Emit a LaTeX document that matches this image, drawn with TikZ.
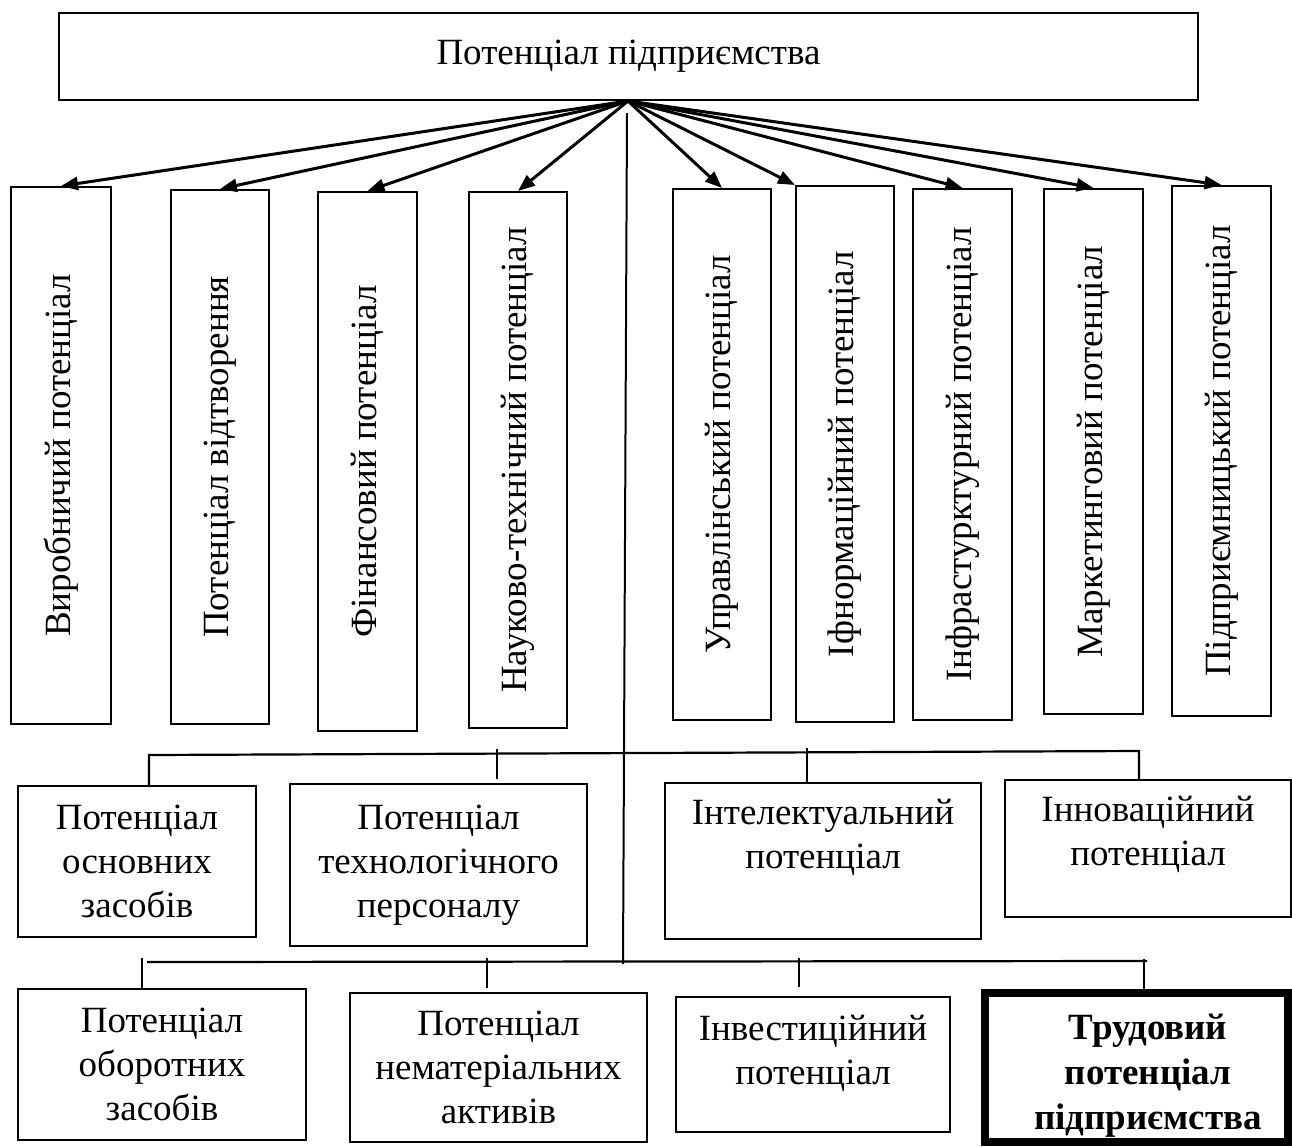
\documentclass[tikz,border=0pt]{standalone}
\usepackage{fontspec}
\setmainfont{Liberation Serif}
\usepackage{graphicx}
\usetikzlibrary{arrows.meta}
\begin{document}
\begin{tikzpicture}[x=1pt,y=-1pt,
  every node/.style={font=\fontsize{37}{44}\selectfont},
  box/.style={draw, line width=2pt, inner sep=0pt, align=center},
  txt/.style={inner sep=0pt, align=center},
  arr/.style={line width=3pt, -{Triangle[length=17pt,width=13pt]}},
  bus/.style={line width=2.2pt},
  tick/.style={line width=1.5pt}]
\useasboundingbox (0,0) rectangle (1292,1146);
\fill[white] (0,0) rectangle (1292,1146);

% top box
\node[box, minimum width=1139pt, minimum height=87pt] (T) at (628.5,56.5) {Потенціал підприємства};

% vertical boxes
\node[box, minimum width=100pt, minimum height=537pt] (v1) at (61,455.5) {\rotatebox{90}{Виробничий потенціал}};
\node[box, minimum width=98pt, minimum height=534pt] (v2) at (220,457) {\rotatebox{90}{Потенціал відтворення}};
\node[box, minimum width=99pt, minimum height=539pt] (v3) at (367.5,461.5) {\rotatebox{90}{Фінансовий потенціал}};
\node[box, minimum width=98pt, minimum height=536pt] (v4) at (518,460) {\rotatebox{90}{Науково-технічний потенціал}};
\node[box, minimum width=98pt, minimum height=531pt] (v5) at (722,454.5) {\rotatebox{90}{Управлінський потенціал}};
\node[box, minimum width=98pt, minimum height=536pt] (v6) at (845,454) {\rotatebox{90}{Іфнормаційний потенціал}};
\node[box, minimum width=99pt, minimum height=531pt] (v7) at (962.5,454.5) {\rotatebox{90}{Інфрастурктурний потенціал}};
\node[box, minimum width=99pt, minimum height=525pt] (v8) at (1093.5,451.5) {\rotatebox{90}{Маркетинговий потенціал}};
\node[box, minimum width=99pt, minimum height=530pt] (v9) at (1221.5,451) {\rotatebox{90}{Підприємницький потенціал}};

% arrows from the top box
\coordinate (apex) at (628,101);
\foreach \n in {v1,v2,v3,v4,v5,v7,v8,v9}
  \draw[arr] (apex) -- (\n.north);
\draw[arr] (apex) -- (v6.north west);

% second row boxes
\node[box, minimum width=238pt, minimum height=151pt] (A) at (137,861.5) {Потенціал\\основних\\засобів};
\node[box, minimum width=297pt, minimum height=162pt] (B) at (438.5,865) {Потенціал\\технологічного\\персоналу};
\node[box, minimum width=316pt, minimum height=156pt] (C) at (823,861) {};
\node[txt] (Ct) at ([yshift=23.5pt]C.center) {Інтелектуальний\\потенціал};
\node[box, minimum width=286pt, minimum height=137pt] (D) at (1148,848.5) {};
\node[txt] (Dt) at ([yshift=14pt]D.center) {Інноваційний\\потенціал};

% third row boxes
\node[box, minimum width=288pt, minimum height=151pt] (E) at (162,1064.5) {Потенціал\\оборотних\\засобів};
\node[box, minimum width=297pt, minimum height=149pt] (F) at (498.5,1067.5) {Потенціал\\нематеріальних\\активів};
\node[box, minimum width=274pt, minimum height=135pt] (G) at (813,1064.5) {};
\node[txt] (Gt) at ([yshift=11pt]G.center) {Інвестиційний\\потенціал};
\node[draw, line width=8pt, inner sep=0pt, minimum width=303pt, minimum height=149pt] (H) at (1136.5,1067.5) {};
\node[txt, font=\fontsize{37}{45}\selectfont\bfseries] (Ht) at ([xshift=11.5pt,yshift=-8pt]H.center) {Трудовий\\потенціал\\підприємства};

% central trunk
\coordinate (trunktop) at (627,113);
\coordinate (trunkbot) at (623,964);
\draw[line width=2pt] (trunktop) -- (trunkbot);

% first bus
\coordinate (b1l) at (149,755);
\coordinate (b1r) at (1139,751);
\draw[bus] (149,0 |- A.north) -- (b1l) -- (b1r) -- (1139,0 |- D.north);
\draw[tick] (497,749) -- (497,779);
\draw[tick] (807,748) -- (807,0 |- C.north);

% second bus
\coordinate (b2l) at (147,962);
\coordinate (b2r) at (1147,961);
\draw[bus] (b2l) -- (b2r);
\draw[tick] (142,958) -- (142,0 |- E.north);
\draw[tick] (487,958) -- (487,988);
\draw[tick] (799,958) -- (799,987);
\draw[tick] (1144,959) -- (1144,0 |- H.north);
\end{tikzpicture}
\end{document}
